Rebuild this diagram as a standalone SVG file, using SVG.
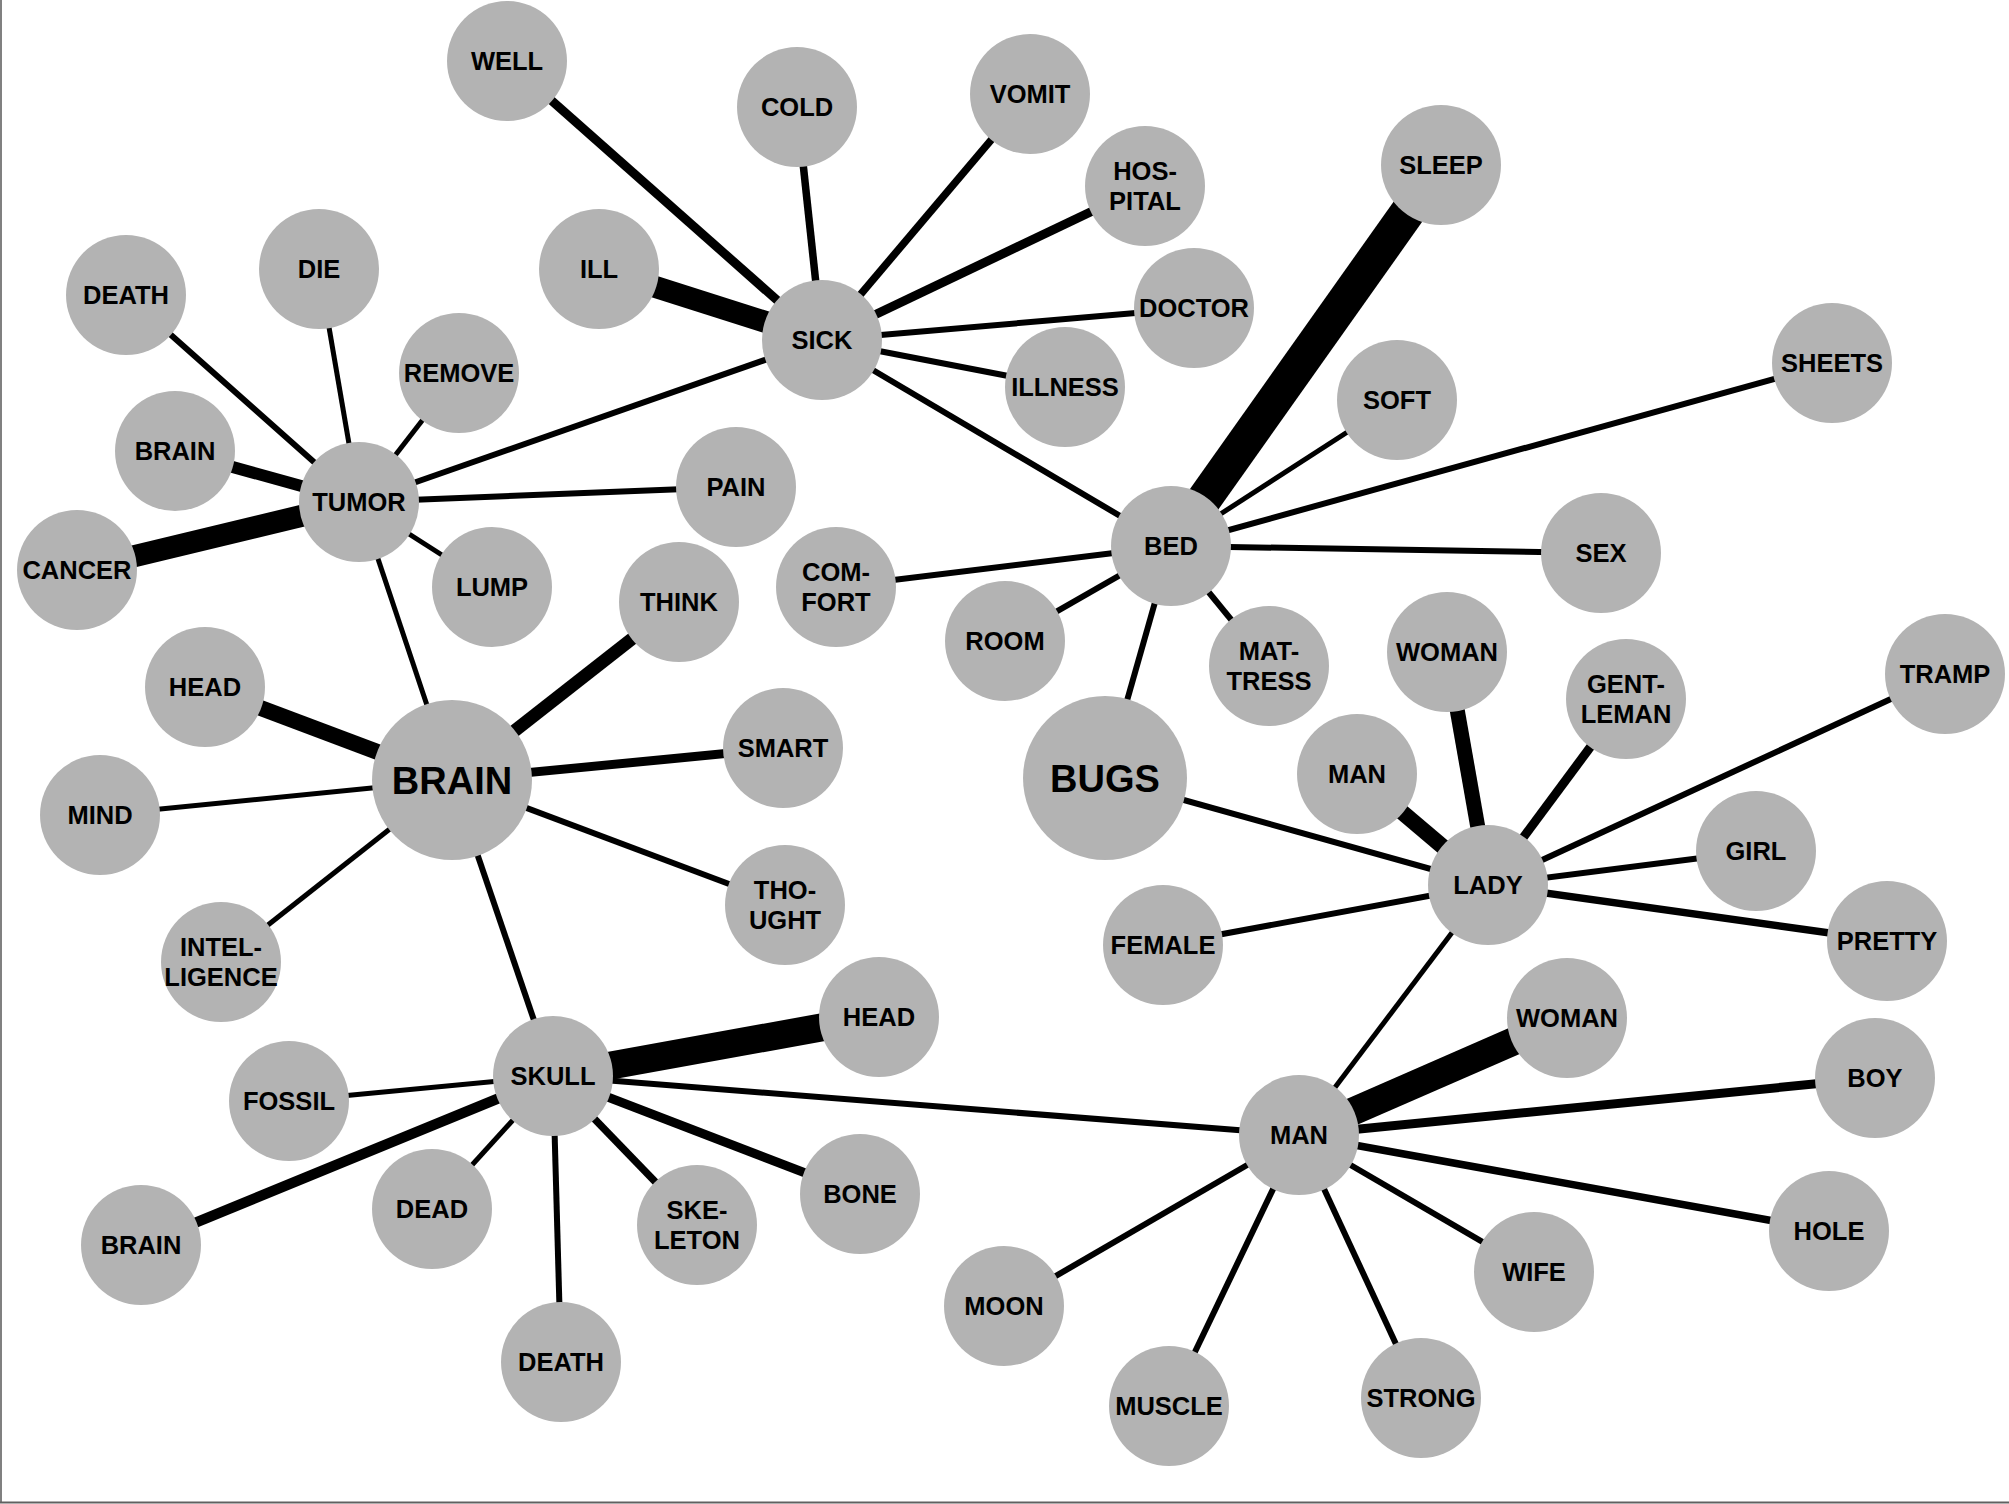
<svg xmlns="http://www.w3.org/2000/svg" width="2009" height="1504" viewBox="0 0 2009 1504">
<style>
  .e { stroke: #000; stroke-linecap: butt; }
  .w5 { stroke-width: 5; }
  .w6 { stroke-width: 6; }
  .w7 { stroke-width: 7.5; }
  .w9 { stroke-width: 9; }
  .w10 { stroke-width: 10.5; }
  .w12 { stroke-width: 12; }
  .w13 { stroke-width: 13; }
  .w15 { stroke-width: 15; }
  .w16 { stroke-width: 16; }
  .w22 { stroke-width: 22; }
  .w28 { stroke-width: 28; }
  .w34 { stroke-width: 35; }
  circle { fill: #b3b3b3; }
  text { font-family: "Liberation Sans", Arial, sans-serif; font-weight: bold; font-size: 25.5px; fill: #000; text-anchor: middle; }
  text.big { font-size: 38px; }
</style>
<rect x="0" y="0" width="2009" height="1504" fill="#fff"/>
<g id="frame">
  <line x1="1" y1="0" x2="1" y2="1503" stroke="#808080" stroke-width="2"/>
  <line x1="0" y1="1502.5" x2="2009" y2="1502.5" stroke="#606060" stroke-width="2"/>
</g>
<g id="connectors">
  <!-- SICK -->
  <line class="e w9" x1="822" y1="340" x2="507" y2="61"/>
  <line class="e w7" x1="822" y1="340" x2="797" y2="107"/>
  <line class="e w7" x1="822" y1="340" x2="1030" y2="94"/>
  <line class="e w9" x1="822" y1="340" x2="1145" y2="186"/>
  <line class="e w6" x1="822" y1="340" x2="1194" y2="308"/>
  <line class="e w6" x1="822" y1="340" x2="1065" y2="387"/>
  <line class="e w22" x1="822" y1="340" x2="599" y2="269"/>
  <line class="e w6" x1="822" y1="340" x2="359" y2="502"/>
  <line class="e w6" x1="822" y1="340" x2="1171" y2="546"/>
  <!-- TUMOR -->
  <line class="e w6" x1="359" y1="502" x2="126" y2="295"/>
  <line class="e w5" x1="359" y1="502" x2="319" y2="269"/>
  <line class="e w5" x1="359" y1="502" x2="459" y2="373"/>
  <line class="e w12" x1="359" y1="502" x2="175" y2="451"/>
  <line class="e w22" x1="359" y1="502" x2="77" y2="570"/>
  <line class="e w6" x1="359" y1="502" x2="736" y2="487"/>
  <line class="e w5" x1="359" y1="502" x2="492" y2="587"/>
  <line class="e w5" x1="359" y1="502" x2="452" y2="780"/>
  <!-- BRAIN -->
  <line class="e w16" x1="452" y1="780" x2="205" y2="687"/>
  <line class="e w13" x1="452" y1="780" x2="679" y2="602"/>
  <line class="e w9" x1="452" y1="780" x2="783" y2="748"/>
  <line class="e w5" x1="452" y1="780" x2="100" y2="815"/>
  <line class="e w5" x1="452" y1="780" x2="221" y2="962"/>
  <line class="e w6" x1="452" y1="780" x2="785" y2="905"/>
  <line class="e w6" x1="452" y1="780" x2="553" y2="1076"/>
  <!-- SKULL -->
  <line class="e w28" x1="553" y1="1076" x2="879" y2="1017"/>
  <line class="e w5" x1="553" y1="1076" x2="289" y2="1101"/>
  <line class="e w10" x1="553" y1="1076" x2="141" y2="1245"/>
  <line class="e w5" x1="553" y1="1076" x2="432" y2="1209"/>
  <line class="e w6" x1="553" y1="1076" x2="561" y2="1362"/>
  <line class="e w7" x1="553" y1="1076" x2="697" y2="1225"/>
  <line class="e w9" x1="553" y1="1076" x2="860" y2="1194"/>
  <line class="e w6" x1="553" y1="1076" x2="1299" y2="1135"/>
  <!-- BED -->
  <line class="e w34" x1="1171" y1="546" x2="1441" y2="165"/>
  <line class="e w5" x1="1171" y1="546" x2="1397" y2="400"/>
  <line class="e w6" x1="1171" y1="546" x2="1832" y2="363"/>
  <line class="e w6" x1="1171" y1="546" x2="1601" y2="553"/>
  <line class="e w6" x1="1171" y1="546" x2="1269" y2="666"/>
  <line class="e w6" x1="1171" y1="546" x2="1105" y2="778"/>
  <line class="e w6" x1="1171" y1="546" x2="1005" y2="641"/>
  <line class="e w6" x1="1171" y1="546" x2="836" y2="587"/>
  <!-- LADY -->
  <line class="e w15" x1="1488" y1="885" x2="1447" y2="652"/>
  <line class="e w16" x1="1488" y1="885" x2="1357" y2="774"/>
  <line class="e w9" x1="1488" y1="885" x2="1626" y2="699"/>
  <line class="e w6" x1="1488" y1="885" x2="1945" y2="674"/>
  <line class="e w6" x1="1488" y1="885" x2="1756" y2="851"/>
  <line class="e w7" x1="1488" y1="885" x2="1887" y2="941"/>
  <line class="e w6" x1="1488" y1="885" x2="1163" y2="945"/>
  <line class="e w6" x1="1488" y1="885" x2="1105" y2="778"/>
  <line class="e w5" x1="1488" y1="885" x2="1299" y2="1135"/>
  <!-- MAN -->
  <line class="e w28" x1="1299" y1="1135" x2="1567" y2="1018"/>
  <line class="e w9" x1="1299" y1="1135" x2="1875" y2="1078"/>
  <line class="e w7" x1="1299" y1="1135" x2="1829" y2="1231"/>
  <line class="e w6" x1="1299" y1="1135" x2="1534" y2="1272"/>
  <line class="e w6" x1="1299" y1="1135" x2="1421" y2="1398"/>
  <line class="e w6" x1="1299" y1="1135" x2="1169" y2="1406"/>
  <line class="e w6" x1="1299" y1="1135" x2="1004" y2="1306"/>
</g>
<g id="n-well"><circle cx="507" cy="61" r="60"/><text x="507" y="70">WELL</text></g>
<g id="n-cold"><circle cx="797" cy="107" r="60"/><text x="797" y="116">COLD</text></g>
<g id="n-vomit"><circle cx="1030" cy="94" r="60"/><text x="1030" y="103">VOMIT</text></g>
<g id="n-hospital"><circle cx="1145" cy="186" r="60"/><text x="1145" y="180">HOS-</text><text x="1145" y="210">PITAL</text></g>
<g id="n-sleep"><circle cx="1441" cy="165" r="60"/><text x="1441" y="174">SLEEP</text></g>
<g id="n-ill"><circle cx="599" cy="269" r="60"/><text x="599" y="278">ILL</text></g>
<g id="n-sick"><circle cx="822" cy="340" r="60"/><text x="822" y="349">SICK</text></g>
<g id="n-doctor"><circle cx="1194" cy="308" r="60"/><text x="1194" y="317">DOCTOR</text></g>
<g id="n-illness"><circle cx="1065" cy="387" r="60"/><text x="1065" y="396">ILLNESS</text></g>
<g id="n-soft"><circle cx="1397" cy="400" r="60"/><text x="1397" y="409">SOFT</text></g>
<g id="n-sheets"><circle cx="1832" cy="363" r="60"/><text x="1832" y="372">SHEETS</text></g>
<g id="n-death-1"><circle cx="126" cy="295" r="60"/><text x="126" y="304">DEATH</text></g>
<g id="n-die"><circle cx="319" cy="269" r="60"/><text x="319" y="278">DIE</text></g>
<g id="n-remove"><circle cx="459" cy="373" r="60"/><text x="459" y="382">REMOVE</text></g>
<g id="n-brain-2"><circle cx="175" cy="451" r="60"/><text x="175" y="460">BRAIN</text></g>
<g id="n-tumor"><circle cx="359" cy="502" r="60"/><text x="359" y="511">TUMOR</text></g>
<g id="n-pain"><circle cx="736" cy="487" r="60"/><text x="736" y="496">PAIN</text></g>
<g id="n-cancer"><circle cx="77" cy="570" r="60"/><text x="77" y="579">CANCER</text></g>
<g id="n-lump"><circle cx="492" cy="587" r="60"/><text x="492" y="596">LUMP</text></g>
<g id="n-think"><circle cx="679" cy="602" r="60"/><text x="679" y="611">THINK</text></g>
<g id="n-comfort"><circle cx="836" cy="587" r="60"/><text x="836" y="581">COM-</text><text x="836" y="611">FORT</text></g>
<g id="n-bed"><circle cx="1171" cy="546" r="60"/><text x="1171" y="555">BED</text></g>
<g id="n-sex"><circle cx="1601" cy="553" r="60"/><text x="1601" y="562">SEX</text></g>
<g id="n-room"><circle cx="1005" cy="641" r="60"/><text x="1005" y="650">ROOM</text></g>
<g id="n-mattress"><circle cx="1269" cy="666" r="60"/><text x="1269" y="660">MAT-</text><text x="1269" y="690">TRESS</text></g>
<g id="n-woman-1"><circle cx="1447" cy="652" r="60"/><text x="1447" y="661">WOMAN</text></g>
<g id="n-gentleman"><circle cx="1626" cy="699" r="60"/><text x="1626" y="693">GENT-</text><text x="1626" y="723">LEMAN</text></g>
<g id="n-tramp"><circle cx="1945" cy="674" r="60"/><text x="1945" y="683">TRAMP</text></g>
<g id="n-head-1"><circle cx="205" cy="687" r="60"/><text x="205" y="696">HEAD</text></g>
<g id="n-brain"><circle cx="452" cy="780" r="80"/><text class="big" x="452" y="794">BRAIN</text></g>
<g id="n-smart"><circle cx="783" cy="748" r="60"/><text x="783" y="757">SMART</text></g>
<g id="n-bugs"><circle cx="1105" cy="778" r="82"/><text class="big" x="1105" y="792">BUGS</text></g>
<g id="n-man-1"><circle cx="1357" cy="774" r="60"/><text x="1357" y="783">MAN</text></g>
<g id="n-lady"><circle cx="1488" cy="885" r="60"/><text x="1488" y="894">LADY</text></g>
<g id="n-girl"><circle cx="1756" cy="851" r="60"/><text x="1756" y="860">GIRL</text></g>
<g id="n-mind"><circle cx="100" cy="815" r="60"/><text x="100" y="824">MIND</text></g>
<g id="n-thought"><circle cx="785" cy="905" r="60"/><text x="785" y="899">THO-</text><text x="785" y="929">UGHT</text></g>
<g id="n-intelligence"><circle cx="221" cy="962" r="60"/><text x="221" y="956">INTEL-</text><text x="221" y="986">LIGENCE</text></g>
<g id="n-female"><circle cx="1163" cy="945" r="60"/><text x="1163" y="954">FEMALE</text></g>
<g id="n-pretty"><circle cx="1887" cy="941" r="60"/><text x="1887" y="950">PRETTY</text></g>
<g id="n-woman-2"><circle cx="1567" cy="1018" r="60"/><text x="1567" y="1027">WOMAN</text></g>
<g id="n-head-2"><circle cx="879" cy="1017" r="60"/><text x="879" y="1026">HEAD</text></g>
<g id="n-skull"><circle cx="553" cy="1076" r="60"/><text x="553" y="1085">SKULL</text></g>
<g id="n-fossil"><circle cx="289" cy="1101" r="60"/><text x="289" y="1110">FOSSIL</text></g>
<g id="n-boy"><circle cx="1875" cy="1078" r="60"/><text x="1875" y="1087">BOY</text></g>
<g id="n-man-2"><circle cx="1299" cy="1135" r="60"/><text x="1299" y="1144">MAN</text></g>
<g id="n-dead"><circle cx="432" cy="1209" r="60"/><text x="432" y="1218">DEAD</text></g>
<g id="n-skeleton"><circle cx="697" cy="1225" r="60"/><text x="697" y="1219">SKE-</text><text x="697" y="1249">LETON</text></g>
<g id="n-bone"><circle cx="860" cy="1194" r="60"/><text x="860" y="1203">BONE</text></g>
<g id="n-brain-3"><circle cx="141" cy="1245" r="60"/><text x="141" y="1254">BRAIN</text></g>
<g id="n-hole"><circle cx="1829" cy="1231" r="60"/><text x="1829" y="1240">HOLE</text></g>
<g id="n-wife"><circle cx="1534" cy="1272" r="60"/><text x="1534" y="1281">WIFE</text></g>
<g id="n-moon"><circle cx="1004" cy="1306" r="60"/><text x="1004" y="1315">MOON</text></g>
<g id="n-death-2"><circle cx="561" cy="1362" r="60"/><text x="561" y="1371">DEATH</text></g>
<g id="n-muscle"><circle cx="1169" cy="1406" r="60"/><text x="1169" y="1415">MUSCLE</text></g>
<g id="n-strong"><circle cx="1421" cy="1398" r="60"/><text x="1421" y="1407">STRONG</text></g>
</svg>
